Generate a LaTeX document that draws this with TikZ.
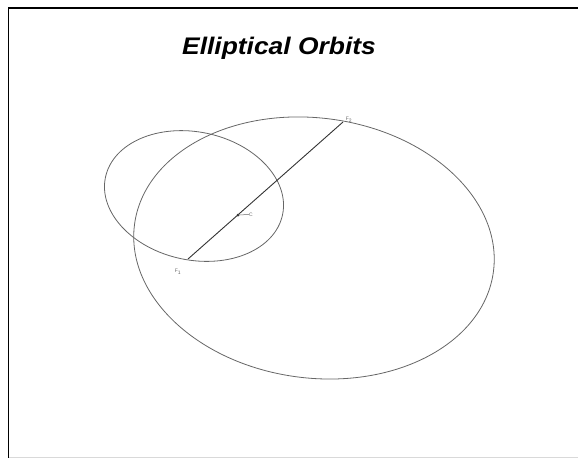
\documentclass[tikz,border=0pt]{standalone}
\usepackage{fontspec}
\setmainfont{Liberation Sans}
\begin{document}
\begin{tikzpicture}[x=1pt,y=-1pt,
  orbit/.style={draw=black!60,line width=0.8pt},
  axisline/.style={draw=black!80,line width=0.9pt},
  lbl/.style={font=\fontsize{5}{5}\selectfont,text=black!60,inner sep=0pt},
  frame/.style={line width=1.8pt,draw=black}]
\useasboundingbox (0,0) rectangle (578,458);
% frame
\draw[frame] (578,8) -- (8.5,8) -- (8.5,458);
\draw[black!15,line width=0.8pt] (9,457.3) -- (578,457.3);
% title
\node[font=\fontsize{24}{24}\bfseries\itshape\selectfont,xscale=1.1] (title) at (279,48) {Elliptical Orbits};
% orbits
\coordinate (bigc) at (314,248);
\coordinate (smallc) at (194,196);
\draw[orbit,rotate around={-7.5:(bigc)}] (bigc) ellipse [x radius=181, y radius=130];
\draw[orbit,rotate around={-12:(smallc)}] (smallc) ellipse [x radius=90.5, y radius=64];
% foci and line
\coordinate (F1) at (188,259);
\coordinate (F2) at (343,122);
\coordinate (C) at (238,215);
\draw[axisline] (F1) -- (F2);
\fill[black!80] (C) circle (1.5);
\node[lbl] (lC) at (251,214.5) {C};
\draw[black!60,line width=0.5pt] (C) -- (lC.west);
\node[lbl] (lF1) at (178,272) {F\textsubscript{1}};
\node[lbl] (lF2) at (349,120) {F\textsubscript{2}};
\end{tikzpicture}
\end{document}
